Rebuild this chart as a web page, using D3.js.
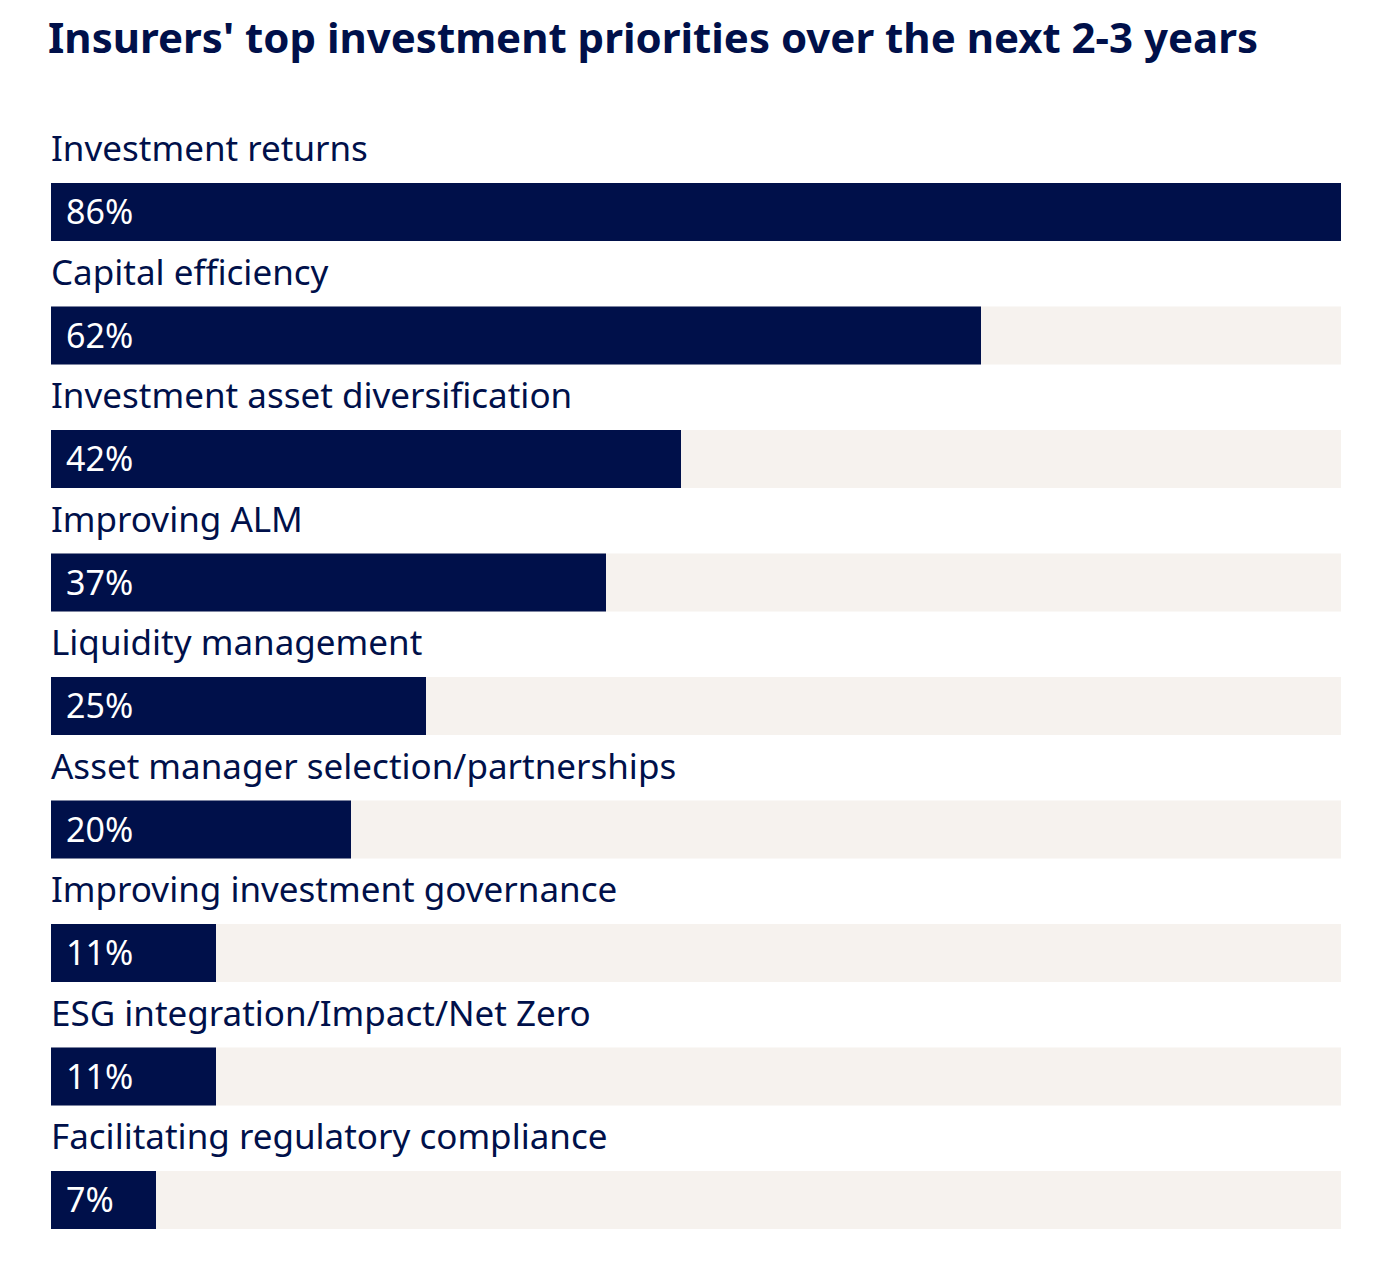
<!DOCTYPE html>
<html>
<head>
<meta charset="utf-8">
<script src="https://cdn.jsdelivr.net/npm/d3@7"></script>
<style>
  body { margin: 0; background: #fff; }
  svg text { font-family: "Noto Sans", sans-serif; }
</style>
</head>
<body>
<div id="chart"></div>
<script>
// ======== Data ========
const categories = [
    'Investment returns',
    'Capital efficiency',
    'Investment asset diversification',
    'Improving ALM',
    'Liquidity management',
    'Asset manager selection/partnerships',
    'Improving investment governance',
    'ESG integration/Impact/Net Zero',
    'Facilitating regulatory compliance'
];
const values = [86, 62, 42, 37, 25, 20, 11, 11, 7];
const title = "Insurers' top investment priorities over the next 2-3 years";

// ======== Layout ========
const width = 1400, height = 1266;
const navy = '#00104a', track = '#f6f2ee';

const svg = d3.select('#chart').append('svg')
    .attr('width', width)
    .attr('height', height);

svg.append('text')
    .attr('x', 48)
    .attr('y', 53)
    .attr('font-size', 42)
    .attr('font-weight', 700)
    .attr('fill', navy)
    .text(title);

var x = d3.scaleLinear()
    .domain([0, d3.max(values)])
    .range([51, 1341]);

// each row = label band + bar band
var y = d3.scaleBand()
    .domain(categories)
    .range([122.5, 1234])
    .paddingInner(0);

let barH = 58;
let barTop = y.bandwidth() - barH - 5;

let rows = svg.selectAll('g.row')
    .data(categories.map((c, i) => ({ name: c, value: values[i] })))
    .enter()
    .append('g')
    .attr('class', 'row')
    .attr('transform', d => 'translate(0,' + y(d.name) + ')');

rows.append('text')
    .attr('x', 51)
    .attr('y', barTop - 22)
    .attr('font-size', 35)
    .attr('fill', navy)
    .text(d => d.name);

rows.append('rect')
    .attr('x', x(0))
    .attr('y', barTop)
    .attr('width', x(d3.max(values)) - x(0))
    .attr('height', barH)
    .attr('fill', track);

rows.append('rect')
    .attr('x', x(0))
    .attr('y', barTop)
    .attr('width', d => x(d.value) - x(0))
    .attr('height', barH)
    .attr('fill', navy);

rows.append('text')
    .attr('x', 66)
    .attr('y', barTop + barH / 2 + 12)
    .attr('font-size', 34)
    .attr('fill', '#fff')
    .text(d => d.value + '%');
</script>
</body>
</html>
